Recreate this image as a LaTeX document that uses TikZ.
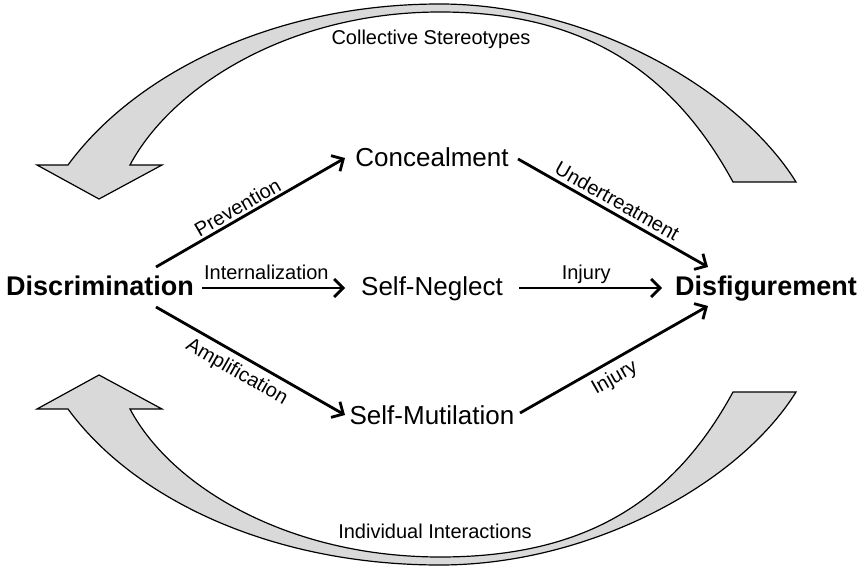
\documentclass[tikz,border=0pt]{standalone}
\usepackage{fontspec}
\setmainfont{Liberation Sans}
\usetikzlibrary{arrows.meta,calc}
\definecolor{arrowgray}{HTML}{D9D9D9}
\begin{document}
\begin{tikzpicture}[x=1pt,y=-1pt,
  mainlbl/.style={font=\fontsize{26}{30}\selectfont, inner sep=0pt, anchor=base},
  boldlbl/.style={font=\fontsize{27}{30}\selectfont\bfseries, inner sep=0pt, anchor=base},
  edgelbl/.style={font=\fontsize{20}{24}\selectfont, inner sep=1pt, text height=14.5pt, text depth=0pt},
  caplbl/.style={font=\fontsize{20}{24}\selectfont, inner sep=0pt, anchor=base},
  arr/.style={line width=2.8pt, -{Straight Barb[length=9pt,width=18pt]}},
  bigarrow/.style={fill=arrowgray, draw=black, line width=1.2pt, line join=miter}]
\useasboundingbox (0,0) rectangle (862,569);

% big curved arrows
\filldraw[bigarrow]
  (796,182) .. controls (739,90) and (590,4) .. (440,4)
  .. controls (270,4) and (133,76) .. (68,165)
  -- (37,165) -- (99,199) -- (162,165) -- (130,165)
  .. controls (172,86) and (290,12) .. (440,12)
  .. controls (580,12) and (671,68) .. (733,182)
  -- cycle;
\filldraw[bigarrow]
  (796,392) .. controls (739,484) and (590,565) .. (440,565)
  .. controls (270,565) and (133,498) .. (68,409)
  -- (37,409) -- (99,375) -- (162,409) -- (130,409)
  .. controls (172,488) and (290,557) .. (440,557)
  .. controls (580,557) and (671,506) .. (733,392)
  -- cycle;

\node[caplbl] (cs) at (431,45) {Collective Stereotypes};
\node[caplbl] (ii) at (435,538) {Individual Interactions};

% main nodes
\node[boldlbl] (disc) at (100,296) {Discrimination};
\node[mainlbl] (conc) at (432,167) {Concealment};
\node[mainlbl] (negl) at (432,296) {Self-Neglect};
\node[mainlbl] (mut)  at (432,424) {Self-Mutilation};
\node[boldlbl] (disf) at (766,296) {Disfigurement};

% connectors
\draw[arr] ($(disc.base)+(56,-29)$) -- node[edgelbl, sloped, above=1.5pt, pos=0.46] {Prevention} ($(conc.base)+(-87,-9)$);
\draw[arr] ($(disc.base)+(102,-8)$) -- node[edgelbl, above=6pt, pos=0.45] {Internalization} ($(negl.base)+(-87,-8)$);
\draw[arr] ($(disc.base)+(56,11)$) -- node[edgelbl, sloped, below=5pt, pos=0.47] {Amplification} ($(mut.base)+(-87,-9)$);
\draw[arr] ($(conc.base)+(86,-8)$) -- node[edgelbl, sloped, above=3pt, pos=0.49] {Undertreatment} ($(disf.base)+(-58,-29)$);
\draw[arr] ($(negl.base)+(87,-8)$) -- node[edgelbl, above=6pt, pos=0.47] {Injury} ($(disf.base)+(-104,-8)$);
\draw[arr] ($(mut.base)+(88,-11)$) -- node[edgelbl, sloped, below=5pt, pos=0.46] {Injury} ($(disf.base)+(-58,10)$);
\end{tikzpicture}
\end{document}
